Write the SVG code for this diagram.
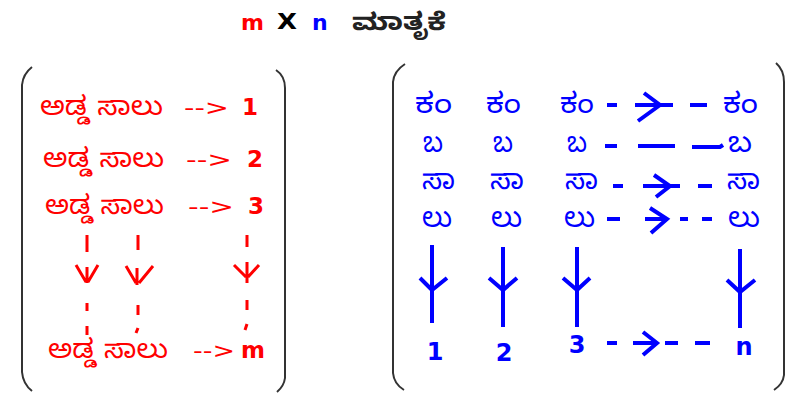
<svg xmlns="http://www.w3.org/2000/svg" width="810" height="401" viewBox="0 0 810 401">
<style>
.kn{font-family:"Noto Sans Kannada","Noto Sans","Noto Sans CJK SC",sans-serif;}
.dj{font-family:"DejaVu Sans","Liberation Sans",sans-serif;}
.b{font-weight:bold;}
.red{fill:#ff0000;}
.blue{fill:#0000ff;}
.br{fill:none;stroke:#333;stroke-width:2;}
.rl{fill:none;stroke:#ff0000;stroke-width:3;}
.bl{fill:none;stroke:#0000ff;stroke-width:4;}
</style>
<rect width="810" height="401" fill="#fff"/>
<g id="title">
<text class="dj b red" x="241" y="30" font-size="22">m</text>
<text class="dj b" x="277" y="29" font-size="21" fill="#000" textLength="20" lengthAdjust="spacingAndGlyphs">X</text>
<text class="dj b blue" x="312" y="30" font-size="22">n</text>
<text class="kn b" x="352" y="30" font-size="24" fill="#222" textLength="94" lengthAdjust="spacingAndGlyphs">ಮಾತೃಕೆ</text>
</g>
<g id="brackets">
<path class="br" d="M32,67 Q23,74 22,85 V372 Q23,384 32,391"/>
<path class="br" d="M276,70 Q285,76 285,88 V378 Q284,386 277,392"/>
<path class="br" d="M405,64 Q394,71 393,82 V373 Q394,384 404,390"/>
<path class="br" d="M776,63 Q784,70 784,82 V375 Q783,384 774,390"/>
</g>
<g id="rows">
<g id="row1"><text class="kn red" x="40" y="115" font-size="26" textLength="123" lengthAdjust="spacingAndGlyphs">ಅಡ್ಡ ಸಾಲು</text><text class="dj red" x="184" y="115" font-size="22" textLength="45" lengthAdjust="spacingAndGlyphs">--&gt;</text><text class="dj b red" x="242" y="115" font-size="23">1</text></g>
<g id="row2"><text class="kn red" x="43" y="167" font-size="26" textLength="121" lengthAdjust="spacingAndGlyphs">ಅಡ್ಡ ಸಾಲು</text><text class="dj red" x="186" y="167" font-size="22" textLength="46" lengthAdjust="spacingAndGlyphs">--&gt;</text><text class="dj b red" x="247" y="167" font-size="23">2</text></g>
<g id="row3"><text class="kn red" x="45" y="214" font-size="26" textLength="119" lengthAdjust="spacingAndGlyphs">ಅಡ್ಡ ಸಾಲು</text><text class="dj red" x="188" y="214" font-size="22" textLength="46" lengthAdjust="spacingAndGlyphs">--&gt;</text><text class="dj b red" x="248" y="214" font-size="23">3</text></g>
<g id="rowm"><text class="kn red" x="48" y="358" font-size="26" textLength="120" lengthAdjust="spacingAndGlyphs">ಅಡ್ಡ ಸಾಲು</text><text class="dj red" x="193" y="358" font-size="22" textLength="42" lengthAdjust="spacingAndGlyphs">--&gt;</text><text class="dj b red" x="241" y="358" font-size="23">m</text></g>
</g>
<g id="cols">
<g class="kn blue" font-size="28">
<text x="415" y="113" textLength="37" lengthAdjust="spacingAndGlyphs">ಕಂ</text><text x="486" y="113" textLength="35" lengthAdjust="spacingAndGlyphs">ಕಂ</text><text x="560" y="113" textLength="34" lengthAdjust="spacingAndGlyphs">ಕಂ</text><text x="723" y="113" textLength="35" lengthAdjust="spacingAndGlyphs">ಕಂ</text>
<text x="423" y="152" textLength="20" lengthAdjust="spacingAndGlyphs">ಬ</text><text x="493" y="152" textLength="20" lengthAdjust="spacingAndGlyphs">ಬ</text><text x="567" y="152" textLength="20" lengthAdjust="spacingAndGlyphs">ಬ</text><text x="728" y="152" textLength="24" lengthAdjust="spacingAndGlyphs">ಬ</text>
<text x="422" y="189" textLength="33" lengthAdjust="spacingAndGlyphs">ಸಾ</text><text x="490" y="189" textLength="34" lengthAdjust="spacingAndGlyphs">ಸಾ</text><text x="565" y="189" textLength="33" lengthAdjust="spacingAndGlyphs">ಸಾ</text><text x="727" y="189" textLength="33" lengthAdjust="spacingAndGlyphs">ಸಾ</text>
<text x="422" y="227" textLength="30" lengthAdjust="spacingAndGlyphs">ಲು</text><text x="491" y="227" textLength="31" lengthAdjust="spacingAndGlyphs">ಲು</text><text x="564" y="227" textLength="31" lengthAdjust="spacingAndGlyphs">ಲು</text><text x="728" y="227" textLength="32" lengthAdjust="spacingAndGlyphs">ಲು</text>
</g>
<g class="dj b blue" font-size="24" text-anchor="middle">
<text x="435" y="360">1</text><text x="504" y="361">2</text><text x="577" y="353">3</text><text x="744" y="355">n</text>
</g>
</g>
<g id="connectors">
<g class="rl">
<path d="M87,235V252 M87,267V283 M76,265L86,282 M98,265L88,282 M87,303V311 M87,326V335"/>
<path d="M138,235V250 M137,268V285 M126,266L136,283 M153,266L139,283 M138,305V315 M138,328L136,333"/>
<path d="M247,235V247 M247,262V283 M234,265L246,277 M259,265L248,277 M247,300V310 M247,324L245,330"/>
</g>
<g class="bl">
<path d="M607,105H617 M635,105H673 M644,93L660,105L638,121 M690,105H707"/>
<path d="M605,146H617 M638,146H675 M692,147H720L723,145"/>
<path d="M613,186H623 M643,186H680 M654,175L670,186L656,197 M698,186H712"/>
<path d="M607,219H620 M645,219H667 M650,208L667,219L651,233 M680,219H688 M702,219H712"/>
<path d="M432,245V323 M420,278L432,290L447,278"/>
<path d="M503,247V327 M489,278L503,290L517,278"/>
<path d="M577,247V327 M563,278L577,290L590,278"/>
<path d="M740,249V328 M727,280L740,292L755,280"/>
<path d="M607,343H617 M633,343H657 M643,332L657,343L643,355 M665,343H678 M695,343H710"/>
</g>
</g>
</svg>
